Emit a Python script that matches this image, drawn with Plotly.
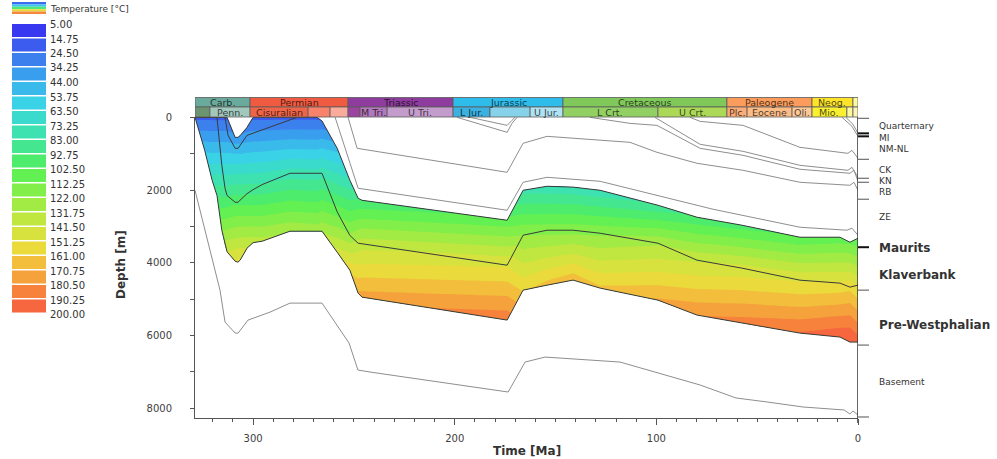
import plotly.graph_objects as go

# ---------------------------------------------------------------------------
# Canvas / plot-area geometry (pixels)
# ---------------------------------------------------------------------------
W, H = 997, 459
ML, MR, MT, MB = 195, 139, 117, 41
T_MAX = 328.8          # left end of the time axis [Ma]
D_MAX = 8275           # bottom of the depth axis [m]


def px_x(x):
    return (x - ML) / (W - ML - MR)


def px_y(y):
    return (H - MB - y) / (H - MT - MB)


# ---------------------------------------------------------------------------
# Limburg Group (Pre-Westphalian / Klaverbank / Maurits) burial + temperature
# shared time nodes [Ma]
# ---------------------------------------------------------------------------
T_NODES = [328.8, 324.0, 320.3, 317.9, 315.5, 313.9, 312.9, 308.9, 307.5, 306.4,
           303.0, 300.0, 295.5, 281.7, 268.2, 265.8, 258.3, 252.0, 247.9, 246.0,
           174.0, 166.1, 154.2, 141.3, 127.9, 99.2, 79.8, 57.5, 28.8, 8.9, 4.0, 0.0]

# depth [m] of base Pre-Westphalian, base Klaverbank, top of the interval
D_PW_BASE = [0, 907, 1732, 2150, 3106, 3519, 3700, 3959, 3986, 3930,
             3600, 3450, 3409, 3134, 3134, 3134, 3711, 4206, 4838, 4948,
             5580, 4756, 4618, 4480, 4700, 5031, 5443, 5663, 5938, 6048, 6185, 6185]
D_KB_BASE = [0, 0, 0, 0, 1320, 1952, 2150, 2337, 2337, 2280,
             2100, 1990, 1850, 1539, 1539, 1539, 2600, 3250, 3464, 3480,
             4069, 3244, 3106, 3106, 3189, 3464, 3931, 4151, 4481, 4563, 4673, 4618]
D_LIMB_TOP = [0, 0, 0, 0, 0, 0, 0, 550, 550, 500,
              275, 0, 0, 0, 0, 100, 850, 1730, 2227, 2282,
              2831, 2007, 1897, 1920, 2007, 2419, 2749, 2969, 3299, 3299, 3436, 3326]

# temperature [degC] on those horizons
TEMP_PW_BASE = [22, 52, 78, 92, 122, 135, 142, 152, 154, 152,
                142, 137, 135, 130, 128, 130, 145, 158, 172, 175,
                187, 160, 165, 168, 163, 172, 180, 185, 191, 198, 202, 196]
TEMP_KB_BASE = [22, 22, 22, 22, 65, 85, 92, 100, 100, 98,
                92, 88, 84, 78, 77, 79, 108, 124, 135, 137,
                150, 122, 118, 118, 120, 130, 140, 145, 150, 153, 158, 150]
TEMP_LIMB_TOP = [22, 22, 22, 22, 22, 22, 22, 38, 38, 36,
                 30, 22, 22, 22, 22, 26, 50, 75, 92, 94,
                 106, 80, 76, 76, 76, 85, 95, 98, 104, 106, 110, 104]

# ---------------------------------------------------------------------------
# Other burial-history horizons (time [Ma], depth [m])
# ---------------------------------------------------------------------------
BASEMENT_T = [328.8, 322.8, 316.4, 313.9, 308.9, 307.4, 302.5, 291.6, 281.7, 265.8,
              256.9, 252.4, 248.0, 242.0, 173.5, 165.1, 155.2, 118.0, 78.3, 60.5,
              45.1, 27.3, 6.9, 4.0, 2.5, 0.0]
BASEMENT_D = [2007, 3326, 4756, 5635, 5938, 5938, 5580, 5361, 5113, 5113,
              5855, 6212, 6955, 7010, 7560, 6735, 6598, 6735, 7367, 7724,
              7834, 7972, 8054, 8164, 8082, 8192]

CARB_T = [313.9, 312.4, 308.9, 307.4, 303.0, 283.2, 278.2]
CARB_D = [0, 495, 852, 852, 495, 110, 0]

ZE_INT_T = [259.3, 247.9, 174.0, 166.1, 154.2, 127.9, 71.9, 28.8, 5.5, 3.0, 0.0]
ZE_INT_D = [0, 1952, 2557, 1787, 1650, 1760, 2529, 3024, 3106, 3051, 3244]

RB_BASE_T = [252.9, 248.4, 174.0, 166.1, 154.2, 113.1, 99.7, 79.8, 57.0, 28.8, 4.0, 2.0, 0.0]
RB_BASE_D = [0, 852, 1512, 714, 522, 687, 962, 1265, 1457, 1787, 1869, 1787, 2007]

JUR_LOWER_T = [198.8, 174.0, 171.6, 169.1]
JUR_LOWER_D = [0, 412, 165, 0]

JUR_UPPER_T = [192.4, 174.0, 171.6, 170.1]
JUR_UPPER_D = [0, 220, 82, 0]

KN_BASE_T = [132.9, 113.1, 99.7, 78.3, 57.0, 28.8, 4.0, 2.0, 0.0]
KN_BASE_D = [0, 165, 220, 852, 1045, 1429, 1539, 1457, 1759]

CK_BASE_T = [100.7, 78.3, 57.0, 28.8, 5.0, 3.0, 0.0]
CK_BASE_D = [0, 742, 935, 1320, 1457, 1375, 1649]

CK_TOP_T = [83.3, 78.3, 57.0, 28.8, 5.0, 3.0, 0.0]
CK_TOP_D = [0, 110, 220, 825, 990, 907, 1127]

MI_T = [7.9, 3.0, 0.0]
MI_D = [0, 247, 522]

QUAT_T = [6.0, 2.5, 0.0]
QUAT_D = [0, 192, 440]

# ---------------------------------------------------------------------------
# Temperature classes
# ---------------------------------------------------------------------------
TEMP_LEVELS = [5.00, 14.75, 24.50, 34.25, 44.00, 53.75, 63.50, 73.25, 83.00, 92.75,
               102.50, 112.25, 122.00, 131.75, 141.50, 151.25, 161.00, 170.75,
               180.50, 190.25, 200.00]
TEMP_COLORS = ["#3838f0", "#3c5cf0", "#3c80ee", "#3a9eee", "#3abaea",
               "#3ad2e6", "#3adacc", "#3ee2b0", "#44e790", "#4eec6c",
               "#62f052", "#82ee4a", "#a2ea44", "#c0e640", "#d8e23e",
               "#eada3c", "#f2be3c", "#f5a23c", "#f6823c", "#f6663f"]

# ---------------------------------------------------------------------------
# Stratigraphic time bar
# ---------------------------------------------------------------------------
PERIOD_BOUNDS = [358.9, 301.5, 252.9, 200.8, 146.3, 65.0, 22.8, 2.5, 0.0]
PERIOD_NAMES = ["Carb.", "Permian", "Triassic", "Jurassic", "Cretaceous",
                "Paleogene", "Neog.", ""]
PERIOD_COLORS = ["#6aaa9c", "#f05a40", "#8e3c9e", "#2ebcea", "#80c85a",
                 "#fb9c5c", "#fde42a", "#fafaa0"]

EPOCH_BOUNDS = [358.9, 321.4, 301.5, 272.7, 261.8, 252.9, 246.9, 233.5, 200.8,
                182.5, 162.6, 146.3, 99.2, 65.0, 55.0, 32.7, 22.8, 5.5, 2.5, 0.0]
EPOCH_NAMES = ["", "Penn.", "Cisuralian", "", "", "", "M Tri.", "U Tri.", "L Jur.",
               "", "U Jur.", "L Crt.", "U Crt.", "Plc.", "Eocene", "Oli.", "Mio.",
               "", ""]
EPOCH_COLORS = ["#6c9470", "#a2c8bd", "#ef6448", "#f8826a", "#f9ac9c", "#9a44a0",
                "#b478bc", "#c49ccc", "#3cb0de", "#86d2ea", "#b0e2f2", "#92d064",
                "#acd858", "#fbac78", "#fbbc88", "#fcc898", "#f8f030", "#fcf8a0",
                "#fdf2b8"]

# ---------------------------------------------------------------------------
# Present-day formation column (right side)
# ---------------------------------------------------------------------------
BASE_TICK_DEPTHS = [27, 440, 522, 1155, 1677, 1787, 2254, 3574, 4756, 6268, 8247]
BASE_TICK_STRONG = [False, True, True, False, False, False, False, True, False, False, False]
FORMATION_NAMES = ["Quarternary", "MI", "NM-NL", "CK", "KN", "RB", "ZE",
                   "Maurits", "Klaverbank", "Pre-Westphalian", "Basement"]
FORMATION_LABEL_DEPTHS = [235, 560, 880, 1457, 1760, 2060, 2749, 3601, 4343, 5718, 7285]
FORMATION_BOLD = [False, False, False, False, False, False, False, True, True, True, False]

FONT = "DejaVu Sans"

fig = go.Figure()

# temperature field inside the Limburg interval
ia = list(range(len(T_NODES)))
fig.add_trace(go.Carpet(
    carpet="limb",
    a=ia, b=[0, 1, 2],
    x=[T_NODES, T_NODES, T_NODES],
    y=[D_PW_BASE, D_KB_BASE, D_LIMB_TOP],
    aaxis=dict(showgrid=False, showline=False, showticklabels="none",
               startline=False, endline=False, minorgridcount=0, smoothing=0,
               gridcolor="rgba(0,0,0,0)", linecolor="rgba(0,0,0,0)"),
    baxis=dict(showgrid=False, showline=False, showticklabels="none",
               startline=False, endline=False, minorgridcount=0, smoothing=0,
               gridcolor="rgba(0,0,0,0)", linecolor="rgba(0,0,0,0)"),
))

band_colors = [TEMP_COLORS[0]] + TEMP_COLORS + [TEMP_COLORS[-1]]
colorscale = [[k / (len(band_colors) - 1), c] for k, c in enumerate(band_colors)]
fig.add_trace(go.Contourcarpet(
    carpet="limb",
    a=ia, b=[0, 1, 2],
    z=[TEMP_PW_BASE, TEMP_KB_BASE, TEMP_LIMB_TOP],
    autocontour=False,
    contours=dict(start=TEMP_LEVELS[0], end=TEMP_LEVELS[-1],
                  size=TEMP_LEVELS[1] - TEMP_LEVELS[0],
                  coloring="fill", showlines=False),
    line=dict(width=0, smoothing=0),
    colorscale=colorscale,
    showscale=False,
))

GREY = "#8e8e8e"
DARK = "#3a3a3a"
for tt, dd, col in [
    (BASEMENT_T, BASEMENT_D, GREY),
    (ZE_INT_T, ZE_INT_D, GREY),
    (RB_BASE_T, RB_BASE_D, GREY),
    (JUR_LOWER_T, JUR_LOWER_D, GREY),
    (JUR_UPPER_T, JUR_UPPER_D, GREY),
    (KN_BASE_T, KN_BASE_D, GREY),
    (CK_BASE_T, CK_BASE_D, GREY),
    (CK_TOP_T, CK_TOP_D, GREY),
    (MI_T, MI_D, GREY),
    (QUAT_T, QUAT_D, GREY),
    (CARB_T, CARB_D, DARK),
    (T_NODES, D_LIMB_TOP, DARK),
    (T_NODES, D_KB_BASE, DARK),
    (T_NODES, D_PW_BASE, DARK),
]:
    fig.add_trace(go.Scatter(x=tt, y=dd, mode="lines",
                             line=dict(color=col, width=1),
                             hoverinfo="skip", showlegend=False))

shapes = []
annotations = []

# stratigraphic bar
row1 = (px_y(107), px_y(97.5))
row2 = (px_y(117), px_y(107))
for bounds, names, colors, (y0, y1) in [
    (PERIOD_BOUNDS, PERIOD_NAMES, PERIOD_COLORS, row1),
    (EPOCH_BOUNDS, EPOCH_NAMES, EPOCH_COLORS, row2),
]:
    for i, name in enumerate(names):
        t0 = min(bounds[i], T_MAX)
        t1 = bounds[i + 1]
        shapes.append(dict(type="rect", xref="x", yref="paper",
                           x0=t0, x1=t1, y0=y0, y1=y1,
                           fillcolor=colors[i], line=dict(color="#5a5a5a", width=0.8),
                           layer="above"))
        if name:
            annotations.append(dict(x=(t0 + t1) / 2, y=(y0 + y1) / 2,
                                    xref="x", yref="paper", text=name,
                                    xanchor="center", yanchor="middle",
                                    showarrow=False,
                                    font=dict(family=FONT, size=9.5,
                                              color="rgba(0,0,0,0.72)")))

# right-hand formation column
shapes.append(dict(type="line", xref="x", yref="paper", x0=0, x1=0,
                   y0=px_y(423), y1=1, line=dict(color="#333333", width=1.5),
                   layer="above"))
for d, strong in zip(BASE_TICK_DEPTHS, BASE_TICK_STRONG):
    shapes.append(dict(type="line", xref="paper", yref="y",
                       x0=1.0, x1=px_x(869), y0=d, y1=d,
                       line=dict(color="#111111" if strong else "#6e6e6e",
                                 width=2 if strong else 1.2)))
for name, d, bold in zip(FORMATION_NAMES, FORMATION_LABEL_DEPTHS, FORMATION_BOLD):
    annotations.append(dict(x=px_x(877), y=d, xref="paper", yref="y",
                            text=f"<b>{name}</b>" if bold else name,
                            xanchor="left", yanchor="middle", showarrow=False,
                            font=dict(family=FONT, size=12 if bold else 9,
                                      color="#333333")))

# temperature legend
stripes = ["#3a6cf0", "#3cc8ec", "#50e878", "#e8d83c", "#f4883c"]
for i, c in enumerate(stripes):
    shapes.append(dict(type="rect", xref="paper", yref="paper",
                       x0=px_x(12), x1=px_x(46),
                       y0=px_y(2 + 2.4 * (i + 1)), y1=px_y(2 + 2.4 * i),
                       fillcolor=c, line=dict(width=0)))
annotations.append(dict(x=px_x(48), y=px_y(8.5), xref="paper", yref="paper",
                        text="Temperature [°C]", xanchor="left", yanchor="middle",
                        showarrow=False,
                        font=dict(family=FONT, size=9, color="#333333")))
for k, c in enumerate(TEMP_COLORS):
    top = 24 + 14.5 * k
    shapes.append(dict(type="rect", xref="paper", yref="paper",
                       x0=px_x(12), x1=px_x(46), y0=px_y(top + 13), y1=px_y(top),
                       fillcolor=c, line=dict(width=0)))
for k, v in enumerate(TEMP_LEVELS):
    annotations.append(dict(x=px_x(48), y=px_y(24.5 + 14.5 * k), xref="paper",
                            yref="paper", text=f"{v:.2f}", xanchor="left",
                            yanchor="middle", showarrow=False,
                            font=dict(family=FONT, size=10, color="#333333")))

# axis titles
annotations.append(dict(x=px_x(121), y=px_y(265), xref="paper", yref="paper",
                        text="<b>Depth [m]</b>", textangle=-90, showarrow=False,
                        xanchor="center", yanchor="middle",
                        font=dict(family=FONT, size=12, color="#333333")))
annotations.append(dict(x=px_x(526.5), y=px_y(451), xref="paper", yref="paper",
                        text="<b>Time [Ma]</b>", showarrow=False,
                        xanchor="center", yanchor="middle",
                        font=dict(family=FONT, size=12, color="#333333")))

tick_font = dict(family=FONT, size=10, color="#404040")
fig.update_layout(
    width=W, height=H,
    margin=dict(l=ML, r=MR, t=MT, b=MB, pad=0, autoexpand=False),
    paper_bgcolor="white", plot_bgcolor="white",
    showlegend=False,
    shapes=shapes, annotations=annotations,
    xaxis=dict(range=[T_MAX, 0], tickmode="linear", tick0=0, dtick=100,
               ticks="outside", ticklen=6, tickwidth=1, tickcolor="#555555",
               minor=dict(ticks="outside", ticklen=3, dtick=10, tickcolor="#555555"),
               showline=True, linecolor="#555555", linewidth=1,
               showgrid=False, zeroline=False, tickfont=tick_font,
               ticklabelstandoff=5),
    yaxis=dict(range=[D_MAX, -10], tickmode="linear", tick0=0, dtick=2000,
               ticks="outside", ticklen=4, tickwidth=1, tickcolor="#555555",
               minor=dict(ticks="outside", ticklen=4, dtick=1000, tickcolor="#555555"),
               showline=True, linecolor="#555555", linewidth=1,
               showgrid=False, zeroline=False, tickfont=tick_font,
               ticklabelstandoff=16),
)

fig.write_html("out.html")
